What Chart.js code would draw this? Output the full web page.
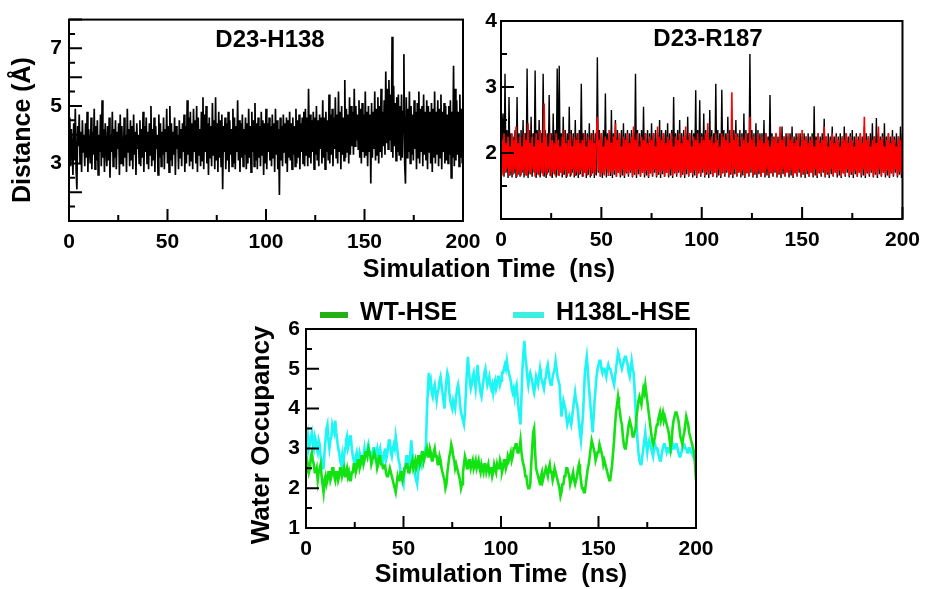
<!DOCTYPE html>
<html><head><meta charset="utf-8">
<script src="https://cdn.jsdelivr.net/npm/chart.js@4.4.1/dist/chart.umd.min.js"></script>
<style>
html,body{margin:0;padding:0;background:#fff;width:929px;height:589px;overflow:hidden;position:relative}
canvas{position:absolute}
.t{position:absolute;font:bold 25px "Liberation Sans",Arial,sans-serif;color:#000;white-space:nowrap;transform:translate(-50%,-50%);line-height:1}
</style></head><body>
<canvas id="c1" width="490" height="290" style="left:0;top:0"></canvas>
<canvas id="c2" width="459" height="290" style="left:470px;top:0"></canvas>
<canvas id="c3" width="500" height="299" style="left:230px;top:290px"></canvas>
<div class="t" style="left:489px;top:268px">Simulation Time&nbsp; (ns)</div>
<script>
// ---------- data ----------
const xTickLabels = [0, 50, 100, 150, 200];
const xMinorTicks = [25, 75, 125, 175];
const yLabels1 = [3, 5, 7];
const yLabels2 = [2, 3, 4];
const yLabels3 = [1, 2, 3, 4, 5, 6];

const dt1 = 0.4;   // ns between samples, panel 1
const dt2 = 0.5;   // ns between samples, panel 2
const dt3 = 0.5;   // ns between samples, panel 3

const d23h138 = [
3.3,4.6,2.9,4.2,3.5,2.6,4.4,3.1,4.9,2.8,
2.1,4.3,3.6,4.7,3.0,4.1,2.7,4.5,3.4,4.0,
2.9,4.4,3.2,4.8,2.7,4.2,3.5,3.0,4.6,2.8,
4.1,3.3,4.9,2.8,4.3,3.1,4.5,2.6,4.0,3.4,
4.7,2.9,5.2,3.2,4.2,2.7,4.4,3.6,2.9,4.3,
3.1,4.6,2.5,4.0,3.4,4.8,2.9,4.2,3.2,4.5,
2.8,4.1,3.5,4.4,2.6,4.7,3.0,4.3,3.3,2.9,
4.6,3.2,4.0,2.7,4.9,3.4,4.2,2.9,4.5,3.1,
4.3,2.8,4.7,3.3,4.1,2.6,4.4,3.5,4.0,3.0,
4.5,2.9,4.2,3.2,4.8,2.7,4.3,3.4,4.6,3.0,
4.1,2.8,4.4,3.3,5.0,2.9,4.2,3.1,4.6,2.7,
4.3,3.5,4.0,2.6,4.7,3.2,4.4,2.9,4.1,3.3,
4.6,2.8,4.2,3.4,4.9,3.0,4.3,2.7,5.0,3.1,
4.4,2.9,4.1,3.3,4.6,2.6,4.3,3.5,4.0,2.8,
4.5,3.2,4.2,2.9,4.4,3.4,4.7,2.7,4.3,3.0,
5.2,3.3,4.6,2.9,4.8,3.1,4.4,2.8,4.9,3.4,
4.5,3.0,5.0,2.7,4.6,3.3,4.2,2.9,4.8,3.1,
5.3,2.8,4.7,3.4,5.0,3.0,4.4,2.6,4.6,3.2,
4.3,2.9,5.1,3.3,4.5,2.8,5.3,3.1,4.4,2.7,
4.8,3.2,4.5,2.9,4.7,2.1,4.3,3.4,4.6,2.8,
4.4,3.1,4.8,2.7,4.5,3.3,4.2,2.9,4.9,3.0,
4.6,2.8,4.3,3.4,5.2,3.1,4.5,2.7,4.4,3.2,
4.7,2.9,4.2,3.3,4.6,2.8,4.4,3.0,4.9,3.2,
4.3,2.7,4.8,3.4,4.5,2.9,5.1,3.1,4.4,2.8,
4.6,3.2,4.3,2.9,4.8,3.3,4.5,2.6,4.4,3.0,
4.9,2.8,4.4,3.4,4.6,3.1,4.3,2.9,4.7,3.2,
4.4,2.7,4.9,3.3,4.5,2.8,4.2,1.9,4.6,3.1,
4.3,2.9,4.7,3.4,4.4,3.0,4.6,2.7,4.5,3.2,
4.8,3.1,4.4,2.8,4.6,3.3,4.3,2.9,4.9,3.0,
4.5,3.2,4.7,2.8,4.4,3.4,4.6,3.0,4.8,2.9,
4.9,3.3,4.6,2.9,5.6,3.2,4.7,3.0,4.5,3.4,
4.8,2.8,4.6,3.3,5.0,3.1,4.5,2.9,4.7,3.5,
4.6,3.0,5.2,3.2,4.6,2.8,4.8,3.4,4.5,3.1,
5.4,3.0,4.7,3.3,4.9,2.9,4.6,3.5,5.3,3.2,
4.7,3.0,5.5,3.4,4.8,2.8,5.0,3.3,4.6,3.1,
5.9,3.2,4.9,3.4,4.7,3.0,5.3,3.3,5.0,3.6,
4.8,3.3,5.6,3.6,5.0,3.8,4.7,3.5,5.2,3.2,
4.9,3.0,5.1,3.4,4.7,3.2,5.5,3.3,4.8,2.9,
5.0,3.4,4.7,2.3,5.1,3.2,4.8,3.5,5.5,3.1,
4.9,3.3,5.3,3.0,5.0,3.4,5.6,3.2,4.8,3.6,
5.2,3.3,6.2,3.7,5.6,3.5,5.9,3.8,5.4,3.4,
7.4,3.2,5.7,3.6,5.1,3.1,5.3,3.4,5.4,3.3,
5.0,3.1,5.4,3.2,4.8,6.8,3.0,2.3,5.3,3.2,
4.9,3.4,5.5,3.0,5.0,3.3,4.7,3.1,5.2,3.5,
4.8,2.8,5.1,3.2,5.5,3.0,4.9,3.4,5.0,2.9,
5.4,3.3,4.8,3.1,5.2,2.8,5.0,3.4,4.8,3.0,
5.1,2.7,4.9,3.2,5.5,3.0,4.8,3.3,5.2,2.9,
4.9,3.2,5.4,2.8,4.8,3.4,5.1,3.0,5.0,3.1,
4.7,3.0,5.0,3.3,5.2,2.5,4.8,3.2,6.4,2.9,
5.6,3.1,5.2,3.3,4.8,2.9,5.4,3.2,4.9,3.0,
3.6];

const d23r187Black = [
1.68,2.3,2.6,1.64,3.2,1.7,2.35,1.62,2.85,1.66,
2.3,1.63,2.25,1.69,2.35,1.62,2.85,1.67,2.3,1.64,
2.35,1.7,2.5,1.63,2.3,1.66,3.28,1.62,2.35,1.68,
2.55,1.64,2.3,1.7,3.25,1.62,2.35,1.67,2.5,1.63,
2.3,1.69,3.2,1.64,2.35,1.62,2.3,1.7,2.88,1.65,
2.3,1.62,2.6,1.68,2.35,1.63,3.28,1.66,3.32,1.7,
2.3,1.63,2.55,1.67,2.35,1.62,2.3,1.69,2.7,1.64,
2.35,1.7,2.3,1.63,2.5,1.66,2.3,1.62,2.35,1.68,
3.05,1.64,2.3,1.7,2.35,1.62,2.3,1.67,2.45,1.63,
2.3,1.69,2.35,1.62,2.3,1.66,3.45,1.7,2.35,1.64,
2.3,1.62,2.35,1.68,2.9,1.63,2.3,1.7,2.35,1.65,
2.65,1.62,2.3,1.67,2.5,1.64,2.35,1.7,2.3,1.63,
2.35,1.66,2.45,1.62,2.3,1.69,2.35,1.64,2.3,1.7,
2.35,1.63,2.3,1.67,3.2,1.62,2.35,1.68,2.3,1.64,
2.35,1.7,2.7,1.63,2.3,1.66,2.35,1.62,2.3,1.69,
2.45,1.64,2.3,1.7,2.35,1.63,2.3,1.67,2.5,1.62,
2.35,1.68,2.3,1.64,2.35,1.7,2.45,1.63,2.3,1.66,
2.35,1.62,2.85,1.69,2.3,1.64,2.35,1.7,2.5,1.63,
2.3,1.67,2.35,1.62,2.3,1.68,2.55,1.64,2.3,1.7,
2.35,1.63,2.3,1.66,2.95,1.62,2.35,1.69,2.8,1.64,
2.3,1.7,2.6,1.63,2.35,1.67,2.3,1.62,2.65,1.68,
2.35,1.64,2.3,1.7,3.05,1.63,2.35,1.66,2.3,1.62,
2.96,1.69,2.35,1.64,2.3,1.7,2.55,1.63,2.35,1.67,
2.3,1.62,2.35,1.68,2.5,1.64,2.3,1.7,2.35,1.63,
2.3,1.66,2.6,1.62,2.35,1.69,2.3,1.64,3.5,1.7,
2.35,1.63,2.3,1.67,2.45,1.62,2.35,1.68,2.3,1.64,
2.3,1.7,2.5,1.63,2.3,1.66,2.25,1.62,2.88,1.69,
2.3,1.64,2.25,1.7,2.3,1.63,2.25,1.67,2.3,1.62,
2.4,1.68,2.25,1.64,2.3,1.7,2.25,1.63,2.3,1.66,
2.4,1.62,2.25,1.69,2.3,1.64,2.25,1.7,2.3,1.63,
2.25,1.67,2.3,1.62,2.25,1.68,2.3,1.64,2.25,1.7,
2.3,1.63,2.71,1.66,2.25,1.62,2.3,1.69,2.25,1.64,
2.3,1.7,2.52,1.63,2.25,1.67,2.3,1.62,2.25,1.68,
2.4,1.64,2.25,1.7,2.3,1.63,2.25,1.66,2.3,1.62,
2.25,1.69,2.4,1.64,2.3,1.7,2.25,1.63,2.3,1.67,
2.35,1.62,2.25,1.68,2.3,1.64,2.25,1.7,2.3,1.63,
2.25,1.66,2.4,1.62,2.3,1.69,2.25,1.64,2.3,1.7,
2.45,1.63,2.25,1.67,2.53,1.62,2.3,1.68,2.25,1.64,
2.3,1.7,2.45,1.63,2.25,1.66,2.3,1.62,2.25,1.69,
2.35,1.64,2.25,1.7,2.3,1.63,2.25,1.67,2.4,1.62,
2.3];

const d23r187Red = [
1.74,2.2,1.66,2.3,1.7,2.15,1.76,2.25,1.65,2.1,
1.72,2.3,1.67,2.2,1.75,2.4,1.64,2.15,1.7,2.25,
1.66,2.1,1.74,2.3,1.68,2.2,1.65,2.45,1.72,2.15,
1.67,2.25,1.75,2.1,1.64,2.3,1.7,2.2,1.66,2.35,
1.73,2.15,1.65,2.75,1.7,2.25,1.67,2.1,1.75,2.3,
1.64,2.2,1.71,2.15,1.66,2.3,1.74,2.2,1.65,2.1,
1.7,2.25,1.67,2.35,1.73,2.15,1.64,2.2,1.7,2.3,
1.66,2.1,1.75,2.25,1.65,2.2,1.71,2.3,1.67,2.15,
1.73,2.2,1.64,2.3,1.7,2.1,1.66,2.25,1.75,2.2,
1.65,2.3,1.71,2.15,1.67,2.25,2.55,1.73,2.2,1.64,
2.3,1.7,2.1,1.66,2.25,1.75,2.2,1.65,2.35,1.71,
2.15,1.67,2.25,1.73,2.45,1.64,2.2,1.7,2.3,1.66,
2.1,1.75,2.25,1.65,2.2,1.71,2.3,1.67,2.15,1.73,
2.25,1.64,2.4,1.7,2.2,1.66,2.3,1.75,2.1,1.65,
2.25,1.71,2.2,1.67,2.3,1.73,2.15,1.64,2.25,1.7,
2.2,1.66,2.3,1.75,2.1,1.65,2.4,1.71,2.25,1.67,
2.2,1.73,2.3,1.64,2.15,1.7,2.25,1.66,2.2,1.75,
2.3,1.65,2.1,1.71,2.25,1.67,2.2,1.73,2.3,1.64,
2.15,1.7,2.25,1.66,2.4,1.75,2.2,1.65,2.3,1.71,
2.1,1.67,2.25,1.73,2.2,1.64,2.3,1.7,2.15,1.66,
2.25,1.75,2.2,1.65,2.3,1.71,2.45,1.67,2.2,1.73,
2.25,1.64,2.15,1.7,2.3,1.66,2.2,1.75,2.1,1.65,
2.3,1.71,2.25,1.67,2.2,1.73,2.3,1.64,2.15,1.7,
2.92,1.66,2.2,1.75,2.3,1.65,2.25,1.71,2.1,1.67,
2.25,1.73,2.2,1.64,2.3,1.7,2.15,1.66,2.55,1.75,
2.2,1.65,2.25,1.71,2.1,1.67,2.3,1.73,2.2,1.64,
2.25,1.7,2.15,1.66,2.3,1.75,2.2,1.65,2.1,1.71,
2.25,1.67,2.2,1.73,2.3,1.64,2.15,1.7,2.4,1.66,
2.2,1.75,2.25,1.65,2.1,1.71,2.3,1.67,2.2,1.73,
2.25,1.64,2.15,1.7,2.2,1.66,2.3,1.75,2.1,1.65,
2.35,1.71,2.2,1.67,2.25,1.73,2.15,1.64,2.2,1.7,
2.25,1.66,2.1,1.75,2.2,1.65,2.3,1.71,2.15,1.67,
2.2,1.73,2.4,1.64,2.25,1.7,2.1,1.66,2.2,1.75,
2.3,1.65,2.15,1.71,2.25,1.67,2.2,1.73,2.1,1.64,
2.25,1.7,2.2,1.66,2.3,1.75,2.15,1.65,2.25,1.71,
2.2,1.67,2.1,1.73,2.25,1.64,2.2,1.7,2.3,1.66,
2.15,1.75,2.55,1.65,2.2,1.71,2.25,1.67,2.1,1.73,
2.2,1.64,2.25,1.7,2.15,1.66,2.4,1.75,2.2,1.65,
2.25,1.71,2.1,1.67,2.2,1.73,2.3,1.64,2.15,1.7,
2.25,1.66,2.2,1.75,2.1,1.65,2.25,1.71,2.2,1.67,
2.2];

const wtHSE = [
2.4,2.7,2.6,2.4,2.5,2.8,2.9,2.7,2.6,2.4,
2.4,2.5,2.2,2.4,2.5,2.6,2.3,2.1,1.9,2.2,
2.3,2.1,2.2,2.4,2.4,2.2,2.3,2.5,2.5,2.3,
2.2,2.4,2.4,2.2,2.3,2.5,2.5,2.3,2.4,2.5,
2.3,2.4,2.5,2.3,2.4,2.2,2.2,2.4,2.4,2.6,
2.6,2.4,2.5,2.7,2.7,2.5,2.6,2.8,2.8,2.6,
2.7,2.9,2.9,2.8,3.0,2.9,2.8,2.6,2.7,2.8,
2.9,2.8,2.7,2.5,2.6,2.8,2.8,2.6,2.6,2.5,
2.5,2.6,2.4,2.3,2.3,2.4,2.5,2.4,2.3,2.2,
2.1,2.0,1.9,2.1,2.3,2.2,2.2,2.4,2.4,2.2,
2.3,2.5,2.5,2.6,2.6,2.4,2.4,2.5,2.6,2.7,
2.5,2.6,2.7,2.5,2.6,2.8,2.8,2.6,2.7,2.9,
2.9,2.7,2.8,2.9,3.0,2.8,2.8,3.0,2.9,2.7,
2.7,2.9,3.0,2.8,2.8,2.6,2.6,2.8,2.7,2.5,
2.4,2.3,2.2,2.0,2.1,2.4,2.6,2.8,2.9,3.1,
3.0,2.8,2.7,2.5,2.6,2.5,2.4,2.3,2.2,2.0,
2.1,2.4,2.6,2.8,2.7,2.5,2.5,2.7,2.7,2.5,
2.6,2.7,2.5,2.6,2.7,2.5,2.6,2.7,2.5,2.4,
2.6,2.5,2.4,2.6,2.6,2.4,2.5,2.6,2.4,2.5,
2.5,2.3,2.4,2.6,2.5,2.4,2.6,2.5,2.5,2.7,
2.6,2.4,2.5,2.7,2.7,2.5,2.6,2.8,2.7,2.8,
2.9,2.7,2.8,3.0,3.0,3.1,3.1,2.9,2.9,3.0,
3.2,2.9,2.7,2.6,2.5,2.3,2.3,2.1,2.0,2.0,
2.1,2.6,3.0,3.4,3.5,2.9,2.5,2.4,2.3,2.2,
2.1,2.3,2.4,2.2,2.3,2.4,2.5,2.4,2.3,2.5,
2.6,2.4,2.4,2.2,2.3,2.5,2.4,2.3,2.2,2.1,
2.0,1.8,1.9,2.1,2.1,2.3,2.3,2.5,2.5,2.4,
2.3,2.1,2.2,2.3,2.4,2.2,2.1,2.2,2.3,2.5,
2.6,2.4,2.2,2.0,2.0,1.9,1.9,2.1,2.3,2.5,
2.6,2.8,3.0,3.2,3.1,3.0,2.9,2.7,2.8,2.9,
2.9,3.1,3.0,2.9,2.8,2.6,2.7,2.6,2.5,2.4,
2.3,2.2,2.2,2.4,2.6,2.9,3.2,3.6,3.9,4.1,
4.3,4.1,3.9,3.7,3.6,3.3,3.1,3.0,3.0,3.2,
3.4,3.6,3.7,3.6,3.5,3.3,3.3,3.4,3.5,3.8,
4.0,4.2,4.3,4.2,4.1,4.3,4.5,4.4,4.6,4.4,
4.2,4.0,3.8,3.6,3.4,3.2,3.1,3.2,3.3,3.5,
3.6,3.7,3.8,3.9,3.7,3.8,3.9,3.7,3.8,3.7,
3.6,3.5,3.4,3.2,3.0,3.2,3.5,3.7,3.8,3.9,
3.9,3.8,3.7,3.5,3.3,3.2,3.1,3.3,3.4,3.6,
3.8,3.7,3.6,3.4,3.3,3.2,3.1,3.0,2.9,2.6,
2.2];

const h138lHSE = [
2.7,3.1,3.3,3.0,3.1,3.3,3.4,3.1,3.0,3.3,
3.2,3.0,2.9,3.2,3.1,2.8,2.7,2.5,2.5,2.9,
3.2,3.5,3.6,3.2,3.0,3.2,3.3,3.6,3.5,3.4,
3.7,3.4,3.2,3.0,2.9,2.7,2.6,2.8,2.5,2.8,
3.0,3.2,3.3,3.0,3.1,3.3,3.3,3.0,2.8,2.7,
2.6,2.8,2.9,2.7,2.7,2.9,2.8,2.6,2.6,2.8,
3.0,2.8,2.8,3.0,3.1,2.9,2.9,2.7,2.8,3.0,
3.0,2.8,2.9,3.0,2.8,2.9,3.0,2.8,2.8,2.7,
2.9,3.0,2.7,2.8,3.0,3.2,3.2,2.9,2.8,3.0,
3.1,3.0,3.3,3.1,2.9,2.7,2.6,2.4,2.3,2.2,
2.1,2.4,2.6,2.8,2.8,2.6,2.5,2.9,3.2,2.9,
2.7,2.5,2.3,2.2,2.1,2.4,2.6,2.7,2.8,2.6,
2.7,2.8,2.9,3.1,3.9,4.5,4.9,4.6,4.7,4.4,
4.3,4.5,4.6,4.4,4.2,4.4,4.5,4.7,4.8,4.6,
4.4,4.2,4.0,4.4,4.7,4.9,4.8,4.4,4.2,4.1,
4.0,4.2,4.1,4.0,4.3,4.5,4.6,4.4,4.1,3.9,
3.8,3.7,3.6,3.9,4.4,4.9,5.3,5.0,4.7,4.5,
4.6,4.8,4.9,4.7,4.5,4.8,5.1,4.8,4.6,4.4,
4.3,4.5,4.7,4.9,5.0,4.8,4.6,4.7,4.8,4.6,
4.5,4.6,4.4,4.6,4.7,4.5,4.6,4.8,4.8,4.6,
4.7,4.9,4.9,5.0,5.1,5.0,5.2,5.0,4.9,4.8,
4.7,4.5,4.4,4.5,4.3,4.5,4.6,4.3,4.0,3.8,
3.6,4.3,5.0,5.4,5.7,5.3,5.1,4.8,4.6,4.8,
4.9,4.8,4.7,4.5,4.4,4.6,4.8,4.7,4.6,4.8,
5.0,4.8,4.7,4.6,4.5,4.7,4.8,5.0,5.1,4.9,
4.7,4.6,4.6,4.8,4.9,5.0,5.2,5.0,4.8,4.7,
4.6,4.2,3.8,4.0,4.2,4.1,4.0,3.8,3.6,3.7,
3.8,3.7,3.6,3.8,4.0,4.2,4.4,4.2,4.1,3.9,
3.6,3.4,3.2,3.5,3.8,4.3,4.9,5.1,5.3,5.0,
4.6,4.3,4.0,3.7,3.4,3.8,4.2,4.5,4.8,5.0,
5.1,5.2,5.2,5.0,4.9,5.0,5.0,4.9,4.8,5.0,
5.1,5.0,5.0,4.9,4.8,4.7,4.6,4.8,5.0,5.2,
5.4,5.3,5.2,5.1,5.0,5.1,5.2,5.3,5.3,5.2,
5.1,4.9,4.8,5.0,5.2,5.0,4.9,4.5,4.0,3.6,
3.2,2.9,2.7,2.6,2.6,2.8,3.0,3.2,3.4,3.1,
2.9,3.1,3.2,3.1,3.0,2.9,2.8,3.0,3.1,3.0,
3.0,2.9,2.8,2.7,2.7,2.9,3.0,3.1,3.1,3.0,
2.9,3.0,3.0,2.9,2.9,3.0,3.1,3.0,3.0,3.1,
3.1,3.0,2.9,2.8,2.8,2.9,3.0,3.1,3.1,3.0,
3.0,2.9,2.9,3.0,3.0,2.9,2.9,2.8,2.8,2.7,
2.6];

// ---------- helpers ----------
const FONT = '"Liberation Sans", Arial, sans-serif';
const toXY = (vals, dt) => vals.map((v, i) => ({ x: i * dt, y: v }));

const frameTicks = {
  id: 'frameTicks',
  afterDatasetsDraw(chart, args, o) {
    const { ctx, chartArea: a, scales } = chart;
    const x = scales.x, y = scales.y;
    ctx.save();
    ctx.strokeStyle = '#000';
    ctx.lineWidth = 2;
    ctx.beginPath();
    o.xMajor.forEach(v => { const p = x.getPixelForValue(v); ctx.moveTo(p, a.bottom); ctx.lineTo(p, a.bottom - 12); });
    o.xMinor.forEach(v => { const p = x.getPixelForValue(v); ctx.moveTo(p, a.bottom); ctx.lineTo(p, a.bottom - 6); });
    for (let v = y.min; v <= y.max + 1e-9; v += o.yStep) {
      const p = y.getPixelForValue(v);
      const major = Math.abs(v - Math.round(v)) < 1e-6;
      ctx.moveTo(a.left, p); ctx.lineTo(a.left + (major ? 13 : 6), p);
    }
    ctx.stroke();
    ctx.strokeRect(a.left, a.top, a.right - a.left, a.bottom - a.top);
    ctx.restore();
  }
};

const textLabels = {
  id: 'textLabels',
  afterDraw(chart, args, o) {
    const ctx = chart.ctx;
    (o.items || []).forEach(it => {
      ctx.save();
      ctx.font = 'bold ' + it.size + 'px ' + FONT;
      ctx.fillStyle = '#000';
      ctx.textAlign = 'center';
      ctx.textBaseline = 'middle';
      ctx.translate(it.x, it.y);
      if (it.rot) ctx.rotate(it.rot * Math.PI / 180);
      ctx.fillText(it.text, 0, 0);
      ctx.restore();
    });
  }
};

const lineLegend = {
  id: 'lineLegend',
  afterDraw(chart, args, o) {
    if (!o.items) return;
    const ctx = chart.ctx;
    ctx.save();
    ctx.font = 'bold 25px ' + FONT;
    ctx.textBaseline = 'middle';
    ctx.textAlign = 'left';
    o.items.forEach(it => {
      const ds = chart.data.datasets[it.dataset];
      ctx.fillStyle = ds.legendColor;
      ctx.fillRect(it.x, it.y - 3, it.len, 6);
      ctx.fillStyle = '#000';
      ctx.fillText(ds.label, it.x + it.len + 12, it.y - 2);
    });
    ctx.restore();
  }
};

function xScale(h) {
  return {
    type: 'linear', min: 0, max: 200,
    afterBuildTicks: s => { s.ticks = xTickLabels.map(v => ({ value: v })); },
    afterFit: s => { s.height = h; },
    grid: { display: false, drawTicks: false },
    border: { display: false },
    ticks: { color: '#000', font: { family: FONT, size: 21, weight: 'bold' }, padding: 9, maxRotation: 0, autoSkip: false }
  };
}
function yScale(min, max, labels, w, pad) {
  return {
    type: 'linear', min, max,
    afterBuildTicks: s => { s.ticks = labels.map(v => ({ value: v })); },
    afterFit: s => { s.width = w; },
    grid: { display: false, drawTicks: false },
    border: { display: false },
    ticks: { color: '#000', font: { family: FONT, size: 21, weight: 'bold' }, padding: pad }
  };
}
const base = {
  responsive: false, animation: false, events: [],
  plugins: { legend: { display: false }, tooltip: { enabled: false } },
  elements: { point: { radius: 0 }, line: { tension: 0 } }
};

// ---------- panel 1 ----------
new Chart(document.getElementById('c1'), {
  type: 'line',
  data: { datasets: [{ label: 'D23-H138', data: toXY(d23h138, dt1), borderColor: '#000', borderWidth: 1.7 }] },
  options: Object.assign({}, base, {
    layout: { padding: { left: 0, right: 27, top: 18, bottom: 0 } },
    scales: { x: xScale(69), y: yScale(1, 8, yLabels1, 69, 7) },
    plugins: Object.assign({}, base.plugins, {
      frameTicks: { xMajor: xTickLabels, xMinor: xMinorTicks, yStep: 0.5 },
      textLabels: { items: [
        { text: 'D23-H138', x: 270, y: 40, size: 24 },
        { text: 'Distance (Å)', x: 23, y: 130, size: 25, rot: -90 }
      ] }
    })
  }),
  plugins: [frameTicks, textLabels]
});

// ---------- panel 2 ----------
new Chart(document.getElementById('c2'), {
  type: 'line',
  data: { datasets: [
    { label: 'red', data: toXY(d23r187Red, dt2), borderColor: '#ff0000', borderWidth: 1.6, order: 0 },
    { label: 'black', data: toXY(d23r187Black, dt2), borderColor: '#000', borderWidth: 1.4, order: 1 }
  ] },
  options: Object.assign({}, base, {
    layout: { padding: { left: 0, right: 19, top: 21, bottom: 0 } },
    scales: { x: xScale(71), y: yScale(1, 4, yLabels2, 31, 4) },
    plugins: Object.assign({}, base.plugins, {
      frameTicks: { xMajor: xTickLabels, xMinor: xMinorTicks, yStep: 0.5 },
      textLabels: { items: [{ text: 'D23-R187', x: 238, y: 39, size: 24 }] }
    })
  }),
  plugins: [frameTicks, textLabels]
});

// ---------- panel 3 ----------
new Chart(document.getElementById('c3'), {
  type: 'line',
  data: { datasets: [
    { label: 'WT-HSE', data: toXY(wtHSE, dt3), borderColor: '#12e212', legendColor: '#22b014', borderWidth: 2.6, order: 0 },
    { label: 'H138L-HSE', data: toXY(h138lHSE, dt3), borderColor: '#1ef6f6', legendColor: '#3cefe0', borderWidth: 2.6, order: 1 }
  ] },
  options: Object.assign({}, base, {
    layout: { padding: { left: 0, right: 34, top: 39, bottom: 0 } },
    scales: {
      x: Object.assign(xScale(61), { title: { display: true, text: 'Simulation Time  (ns)', color: '#000', font: { family: FONT, size: 25, weight: 'bold', lineHeight: 1 }, padding: { top: 0, bottom: 1 } } }),
      y: yScale(1, 6, yLabels3, 76, 6)
    },
    plugins: Object.assign({}, base.plugins, {
      frameTicks: { xMajor: xTickLabels, xMinor: xMinorTicks, yStep: 0.5 },
      lineLegend: { items: [{ dataset: 0, x: 90, y: 25, len: 28 }, { dataset: 1, x: 283, y: 25, len: 31 }] },
      textLabels: { items: [{ text: 'Water Occupancy', x: 32, y: 145, size: 26, rot: -90 }] }
    })
  }),
  plugins: [frameTicks, lineLegend, textLabels]
});
</script>
</body></html>
